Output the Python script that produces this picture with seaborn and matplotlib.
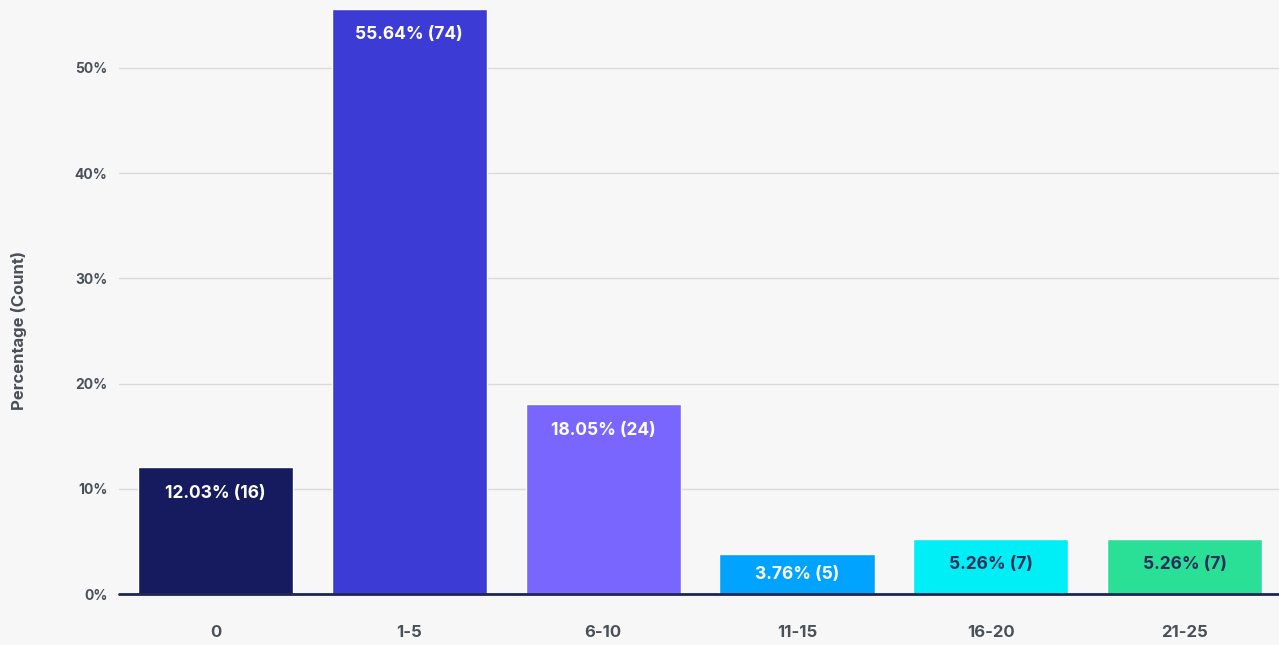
import matplotlib
matplotlib.use("Agg")
import matplotlib.pyplot as plt
import seaborn as sns
import pandas as pd

categories = ["0", "1-5", "6-10", "11-15", "16-20", "21-25"]
percentages = [12.03, 55.64, 18.05, 3.76, 5.26, 5.26]
counts = [16, 74, 24, 5, 7, 7]
bar_colors = ["#151b5e", "#3d3bd6", "#7866fe", "#00a3ff", "#00eef5", "#2ae096"]
label_colors = ["white", "white", "white", "white", "#2a2f5a", "#2a2f5a"]
y_ticks = [0, 10, 20, 30, 40, 50]

sns.set_theme(style="white")
plt.rcParams["font.family"] = ["Inter", "DejaVu Sans"]

bg = "#f7f7f8"
text_gray = "#4a5058"

df = pd.DataFrame({"bucket": categories, "pct": percentages})

fig = plt.figure(figsize=(12.79, 6.45), dpi=100, facecolor=bg)
ax = fig.add_axes([0.0927, 0.079, 0.9093, 0.921])
ax.set_facecolor(bg)

sns.barplot(data=df, x="bucket", y="pct", hue="bucket", palette=bar_colors,
            order=categories, hue_order=categories, width=0.8, legend=False,
            saturation=1, ax=ax, zorder=3)

ax.set_xlim(-0.5, len(categories) - 0.5)
ax.set_ylim(0, 56.46)

for y in y_ticks[1:]:
    ax.axhline(y, color="#d9d9de", lw=1, zorder=1)
ax.axhline(0, color="#1e2552", lw=2, zorder=4, clip_on=False)

ax.set_yticks(y_ticks)
ax.set_yticklabels([f"{t}%" for t in y_ticks], fontsize=10, fontweight="bold", color=text_gray)
ax.tick_params(axis="y", length=0, pad=8)
ax.tick_params(axis="x", length=0, pad=22)
for lbl in ax.get_xticklabels():
    lbl.set_fontsize(12)
    lbl.set_fontweight("bold")
    lbl.set_color(text_gray)

ax.set_xlabel("")
ax.set_ylabel("Percentage (Count)", fontsize=12, fontweight="bold", color=text_gray)
ax.yaxis.set_label_coords(-0.079, 0.444)

for s in ax.spines.values():
    s.set_visible(False)

# value labels sit just under each bar's top, or centred when the bar is short
offset = 2.47
for i, (p, c) in enumerate(zip(percentages, counts)):
    y = p - min(offset, p / 2)
    ax.text(i, y, f"{p:.2f}% ({c})", ha="center", va="center",
            fontsize=12.5, fontweight="bold", color=label_colors[i], zorder=5)

fig.savefig("out.png", dpi=100, facecolor=bg)
